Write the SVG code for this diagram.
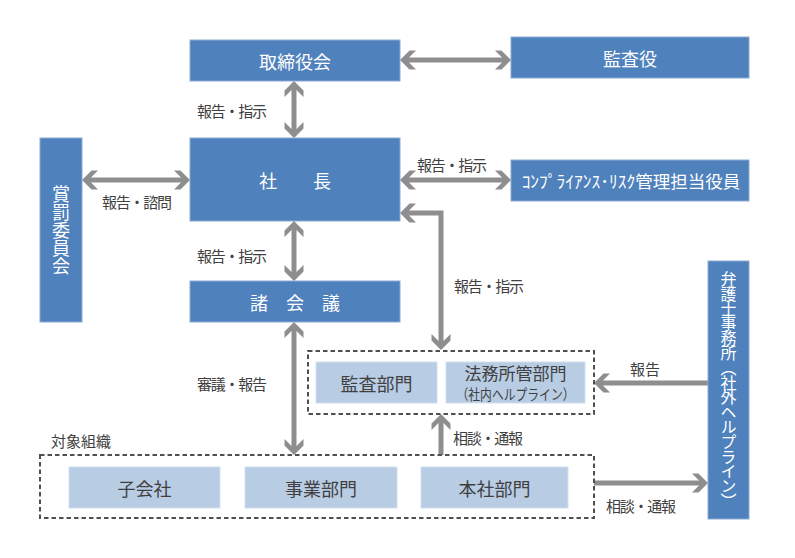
<svg xmlns="http://www.w3.org/2000/svg" width="795" height="558" viewBox="0 0 795 558">
<style>
text{font-family:"Noto Sans CJK JP","Noto Sans",sans-serif;}
.dark{fill:#4F81BD;stroke:#8DAAD3;stroke-width:1;}
.light{fill:#B8CCE4;stroke:#D3E0EF;stroke-width:1;}
.dash{fill:none;stroke:#505050;stroke-width:2;stroke-dasharray:4.5 3;}
.wt{fill:#FFFFFF;font-size:18px;text-anchor:middle;dominant-baseline:central;}
.gt{fill:#404040;font-size:18px;text-anchor:middle;dominant-baseline:central;}
.lb{fill:#404040;font-size:15px;text-anchor:middle;dominant-baseline:central;}
.vt{writing-mode:vertical-rl;}
.con{fill:none;stroke:#8E8E8E;stroke-width:5;stroke-linejoin:miter;}
.bi{marker-start:url(#ah);marker-end:url(#ah);}
.uni{marker-end:url(#ah);}
</style>
<defs>
<marker id="ah" markerUnits="userSpaceOnUse" viewBox="-10 -11 20 22" markerWidth="20" markerHeight="22" refX="0" refY="0" orient="auto-start-reverse">
<polygon points="8,0 -1.5,-9.5 -8,-9.5 -1,-2.5 -1,2.5 -8,9.5 -1.5,9.5" fill="#8E8E8E"/>
</marker>
</defs>

<g id="connectors">
<line class="con bi" x1="408" y1="60" x2="503" y2="60"/>
<line class="con bi" x1="294" y1="89" x2="294" y2="130"/>
<line class="con bi" x1="90" y1="180" x2="182" y2="180"/>
<line class="con bi" x1="408" y1="180" x2="503" y2="180"/>
<path class="con bi" d="M408 213 H441 V342"/>
<line class="con bi" x1="294" y1="229" x2="294" y2="273"/>
<line class="con bi" x1="294" y1="330" x2="294" y2="447"/>
<line class="con uni" x1="708" y1="383" x2="602" y2="383"/>
<line class="con uni" x1="441" y1="455" x2="441" y2="422"/>
<line class="con uni" x1="594" y1="483" x2="700" y2="483"/>
</g>

<g id="labels">
<text class="lb" x="232" y="110" textLength="70" lengthAdjust="spacing">報告・指示</text>
<text class="lb" x="452" y="164" textLength="70" lengthAdjust="spacing">報告・指示</text>
<text class="lb" x="137" y="201" textLength="70" lengthAdjust="spacing">報告・諮問</text>
<text class="lb" x="232" y="255" textLength="70" lengthAdjust="spacing">報告・指示</text>
<text class="lb" x="489" y="285" textLength="70" lengthAdjust="spacing">報告・指示</text>
<text class="lb" x="232" y="383" textLength="70" lengthAdjust="spacing">審議・報告</text>
<text class="lb" x="645" y="368">報告</text>
<text class="lb" x="488" y="437" textLength="70" lengthAdjust="spacing">相談・通報</text>
<text class="lb" x="641" y="505" textLength="70" lengthAdjust="spacing">相談・通報</text>
</g>

<g id="torishimariyakukai">
<rect class="dark" x="190" y="40" width="210" height="41"/>
<text class="wt" x="295" y="60.5">取締役会</text>
</g>
<g id="kansayaku">
<rect class="dark" x="511" y="37" width="238" height="41"/>
<text class="wt" x="630" y="57.5">監査役</text>
</g>
<g id="shacho">
<rect class="dark" x="190" y="138" width="210" height="83"/>
<text class="wt" x="295" y="180">社　　長</text>
</g>
<g id="shobatsu">
<rect class="dark" x="40" y="138" width="42" height="184"/>
<text class="wt vt" x="61" y="230">賞罰委員会</text>
</g>
<g id="compliance">
<rect class="dark" x="511" y="160" width="238" height="41"/>
<text class="wt" x="631" y="180.5" style="font-size:17.5px">ｺﾝﾌﾟﾗｲｱﾝｽ･ﾘｽｸ管理担当役員</text>
</g>
<g id="shokaigi">
<rect class="dark" x="190" y="281" width="210" height="41"/>
<text class="wt" x="295" y="301.5">諸　会　議</text>
</g>
<g id="bengoshi">
<rect class="dark" x="708" y="261" width="41" height="258"/>
<text class="wt vt" x="728.5" y="390" style="font-size:16px" textLength="238" lengthAdjust="spacing">弁護士事務所（社外ヘルプライン）</text>
</g>

<g id="naibu">
<rect class="dash" x="308" y="351" width="286" height="63"/>
<g id="kansabumon">
<rect class="light" x="316" y="362" width="121" height="41"/>
<text class="gt" x="376.5" y="382.5">監査部門</text>
</g>
<g id="homu">
<rect class="light" x="446" y="362" width="139" height="41"/>
<text class="gt" x="515.5" y="372.5" style="font-size:17px">法務所管部門</text>
<text class="gt" x="515.5" y="393.5" style="font-size:14.5px" textLength="118" lengthAdjust="spacingAndGlyphs">（社内ヘルプライン）</text>
</g>
</g>

<g id="taisho">
<text class="lb" x="81" y="440">対象組織</text>
<rect class="dash" x="40" y="455" width="554" height="63"/>
<g id="kogaisha">
<rect class="light" x="69" y="467" width="151" height="41"/>
<text class="gt" x="144.5" y="487.5">子会社</text>
</g>
<g id="jigyobumon">
<rect class="light" x="245" y="467" width="152" height="41"/>
<text class="gt" x="321" y="487.5">事業部門</text>
</g>
<g id="honsha">
<rect class="light" x="421" y="467" width="147" height="41"/>
<text class="gt" x="494.5" y="487.5">本社部門</text>
</g>
</g>
</svg>
